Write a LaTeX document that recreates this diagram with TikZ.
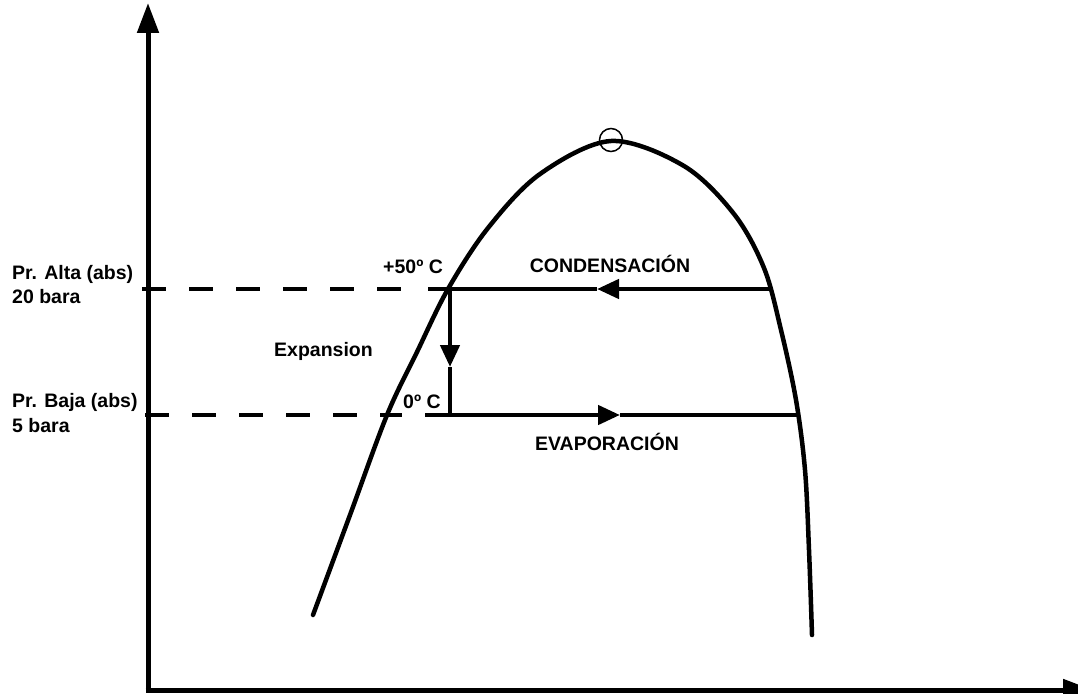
\documentclass[tikz,border=0pt]{standalone}
\usepackage{fontspec}
\setmainfont{Liberation Sans}
\usepackage{tikz}
\usetikzlibrary{arrows.meta,positioning,calc}
\tikzset{
  paxis/.style={-{Triangle[length=30pt,width=21pt]}, line width=5pt},
  pcurve/.style={line width=4.5pt, line cap=round},
  pline/.style={line width=4.5pt},
  pdash/.style={line width=4.5pt, dash pattern=on 24pt off 23pt},
  pflow/.style={-{Triangle[length=22pt,width=19pt]}, line width=4.5pt},
  plabel/.style={font=\bfseries\fontsize{19.5}{24}\selectfont, inner sep=0pt},
  pcrit/.style={draw, circle, line width=1.5pt, minimum size=23pt, inner sep=0pt}
}
\begin{document}
\begin{tikzpicture}[x=1pt,y=-1pt]
\useasboundingbox (0,0) rectangle (1078,693);
\clip (0,0) rectangle (1078,693);
% axes
\coordinate (orig) at (148,690);
\coordinate (ytop) at (148,3);
\coordinate (xend) at (1093,690);
\draw[paxis] ($(orig)+(0,2.5)$) -- (ytop);
\draw[paxis] ($(orig)+(-2.5,0)$) -- (xend);
% saturation curve
\draw[pcurve] plot[smooth, tension=0.55] coordinates {
  (313,615) (350,515) (387,415) (417,352) (448,289) (488,228) (540,174)
  (611,141) (684,166) (734,214) (764,268) (781,330) (796,400) (805,470)
  (809,550) (812,635)};
\node[pcrit] (crit) at (611,140) {};
% pressure levels
\coordinate (altaA) at (142,289);
\coordinate (altaB) at (408,289);
\coordinate (altaC) at (428,289);
\coordinate (altaD) at (773,289);
\coordinate (bajaA) at (145,415);
\coordinate (bajaB) at (402,415);
\coordinate (bajaC) at (425,415);
\coordinate (bajaD) at (800,415);
\coordinate (condTip) at (597,289);
\coordinate (evapTip) at (620,415);
\coordinate (expTop) at (450,289);
\coordinate (expTip) at (450,367);
\coordinate (expBot) at (450,415);
\draw[pdash] (altaA) -- (altaB);
\draw[pdash] (bajaA) -- (bajaB);
\draw[pflow] (altaD) -- (condTip);
\draw[pline] (condTip) -- (altaC);
\draw[pflow] (bajaC) -- (evapTip);
\draw[pline] (evapTip) -- (bajaD);
\draw[pflow] (expTop) -- (expTip);
\draw[pline] (expTip) -- (expBot);
% labels
\node[plabel, anchor=base west] (alta) at (12,279) {Pr. Alta (abs)};
\node[plabel, anchor=base west] (altaV) at (12,303) {20 bara};
\node[plabel, anchor=base west] (baja) at (12,407) {Pr. Baja (abs)};
\node[plabel, anchor=base west] (bajaV) at (12,432) {5 bara};
\node[plabel, anchor=base west] (exp) at (274,356) {Expansion};
\node[plabel, anchor=base west] (tAlta) at (383,273) {+50º C};
\node[plabel, anchor=base west] (tBaja) at (403,408) {0º C};
\node[plabel, anchor=base] (cond) at (610,272) {CONDENSACIÓN};
\node[plabel, anchor=base] (evap) at (607,450) {EVAPORACIÓN};
\end{tikzpicture}
\end{document}
